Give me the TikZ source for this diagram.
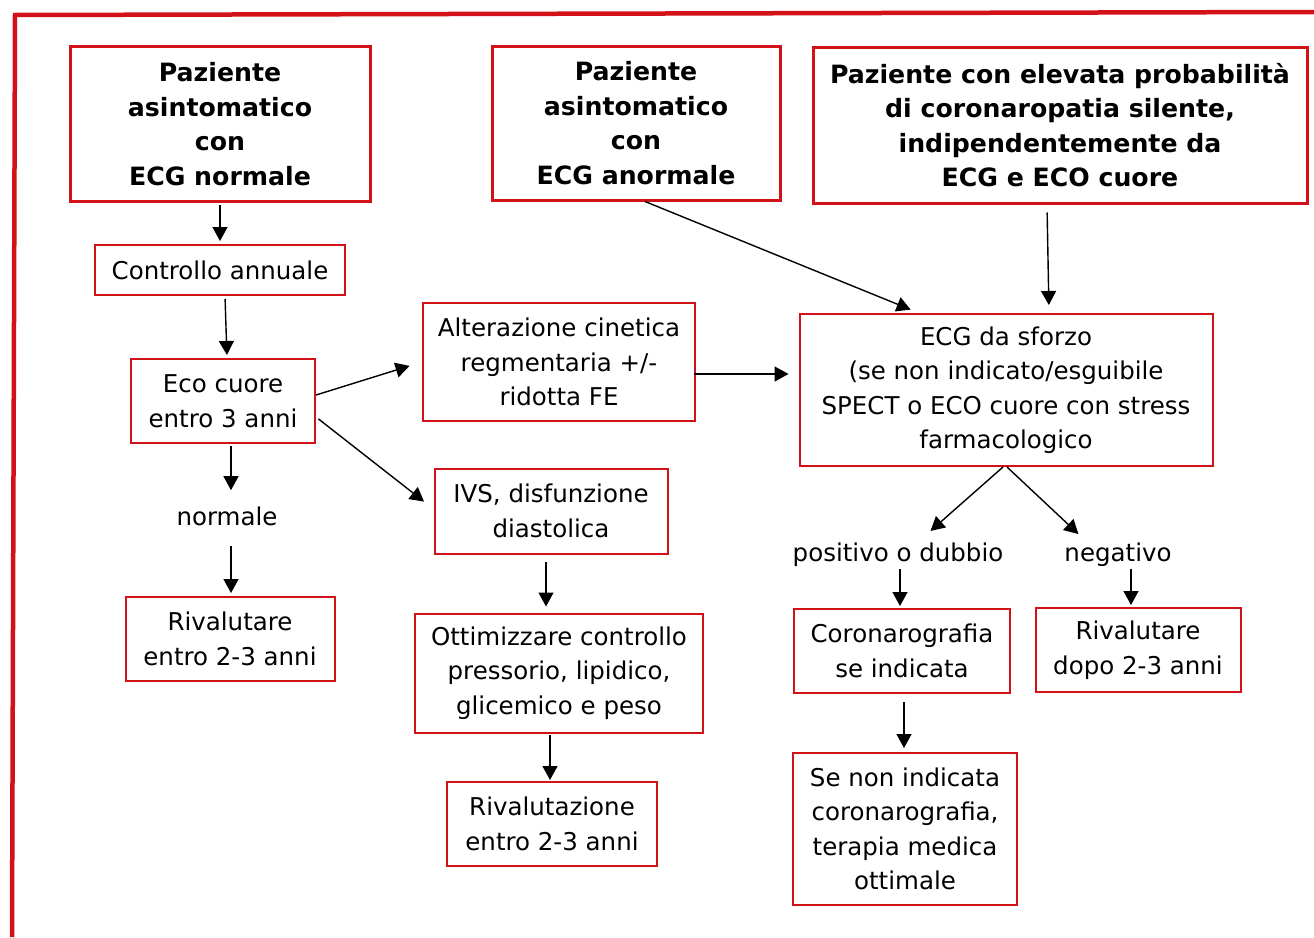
\documentclass[tikz,border=0pt]{standalone}
\usepackage{fontspec}
\setmainfont{DejaVu Sans}
\usepackage{tikz}
\usetikzlibrary{arrows.meta}

\definecolor{boxred}{RGB}{210,18,24}

\begin{document}
\begin{tikzpicture}
    [ x = 1pt, y = -1pt
    , font = \fontsize{24.5}{34.5}\selectfont
    , box/.style =
      { draw = boxred, line width = 2pt, align = center, inner sep = 0pt }
    , title/.style =
      { box, line width = 3pt, font = \fontsize{25.2}{34.5}\selectfont\bfseries }
    , result/.style =
      { anchor = base, inner sep = 2pt }
    , arrow/.style =
      { -{Triangle[length=14pt, width=15pt]}, line width = 1.4pt }
    ]
    \useasboundingbox (0,0) rectangle (1314,937);
    \draw [boxred, line width = 4.5pt] (1314,12) -- (15,15) -- (12,937);

    \node [title, minimum width=300pt, minimum height=155pt] (normal) at (220,124) {Paziente\\asintomatico\\con\\ECG normale};
    \node [title, minimum width=288pt, minimum height=154pt] (abnormal) at (636,123) {Paziente\\asintomatico\\con\\ECG anormale};
    \node [title, minimum width=494pt, minimum height=156pt] (highrisk) at (1060,125) {Paziente con elevata probabilità\\di coronaropatia silente,\\indipendentemente da\\ECG e ECO cuore};

    \node [box, minimum width=250pt, minimum height=50pt] (annual) at (220,270) {Controllo annuale};
    \node [box, minimum width=184pt, minimum height=84pt] (echo) at (223,401) {Eco cuore\\entro 3 anni};
    \node [result] (normale) at (227,525) {normale};
    \node [box, minimum width=209pt, minimum height=84pt] (reval) at (230,639) {Rivalutare\\entro 2-3 anni};

    \node [box, minimum width=272pt, minimum height=118pt] (kinetic) at (559,362) {Alterazione cinetica\\regmentaria +/-\\ridotta FE};
    \node [box, minimum width=233pt, minimum height=85pt] (ivs) at (551,511) {IVS, disfunzione\\diastolica};
    \node [box, minimum width=288pt, minimum height=119pt] (optimize) at (559,673) {Ottimizzare controllo\\pressorio, lipidico,\\glicemico e peso};
    \node [box, minimum width=210pt, minimum height=84pt] (revaltwo) at (552,824) {Rivalutazione\\entro 2-3 anni};

    \node [box, minimum width=413pt, minimum height=152pt] (stress) at (1006,390) {ECG da sforzo\\(se non indicato/esguibile\\SPECT o ECO cuore con stress\\farmacologico};
    \node [result] (positive) at (898,561) {positivo o dubbio};
    \node [result] (negative) at (1118,561) {negativo};
    \node [box, minimum width=216pt, minimum height=84pt] (angio) at (902,651) {Coronarografia\\se indicata};
    \node [box, minimum width=205pt, minimum height=84pt] (revalneg) at (1138,650) {Rivalutare\\dopo 2-3 anni};
    \node [box, minimum width=224pt, minimum height=152pt] (therapy) at (905,829) {Se non indicata\\coronarografia,\\terapia medica\\ottimale};

    \draw [arrow, shorten <=2pt, shorten >=3pt] (normal.south) -- (annual.north);
    \draw [arrow, shorten <=3pt, shorten >=3pt] ([xshift=5pt]annual.south) -- ([xshift=4pt]echo.north);
    \draw [arrow, shorten <=2pt, shorten >=14pt] ([xshift=8pt]echo.south) -- ([xshift=4pt]normale.north);
    \draw [arrow, shorten <=18pt, shorten >=3pt] ([xshift=4pt]normale.south) -- ([xshift=1pt]reval.north);
    \draw [arrow, shorten >=13pt] ([yshift=6pt]echo.east) -- (kinetic.west);
    \draw [arrow, shorten <=3pt, shorten >=12pt] ([yshift=-16pt]echo.east) -- ([yshift=2pt]ivs.west);
    \draw [arrow, shorten <=7pt, shorten >=6pt] ([xshift=-5pt]ivs.south) -- ([xshift=-13pt]optimize.north);
    \draw [arrow, shorten <=1pt, shorten >=1pt] ([xshift=-9pt]optimize.south) -- ([xshift=-2pt]revaltwo.north);
    \draw [arrow, shorten <=-2pt, shorten >=10pt] ([yshift=-12pt]kinetic.east) -- ([yshift=16pt]stress.west);
    \draw [arrow, shorten >=9pt] ([xshift=9pt]abnormal.south) -- ([xshift=-87pt]stress.north);
    \draw [arrow, shorten <=8pt, shorten >=8pt] ([xshift=-13pt]highrisk.south) -- ([xshift=43pt]stress.north);
    \draw [arrow, shorten >=14pt] ([xshift=-3pt]stress.south) -- ([xshift=22pt]positive.north);
    \draw [arrow, shorten >=9pt] ([xshift=1pt]stress.south) -- ([xshift=-33pt]negative.north);
    \draw [arrow, shorten <=1pt, shorten >=2pt] ([xshift=2pt]positive.south) -- ([xshift=-2pt]angio.north);
    \draw [arrow, shorten <=1pt, shorten >=2pt] ([xshift=13pt]negative.south) -- ([xshift=-7pt]revalneg.north);
    \draw [arrow, shorten <=8pt, shorten >=4pt] ([xshift=2pt]angio.south) -- ([xshift=-1pt]therapy.north);
\end{tikzpicture}
\end{document}
